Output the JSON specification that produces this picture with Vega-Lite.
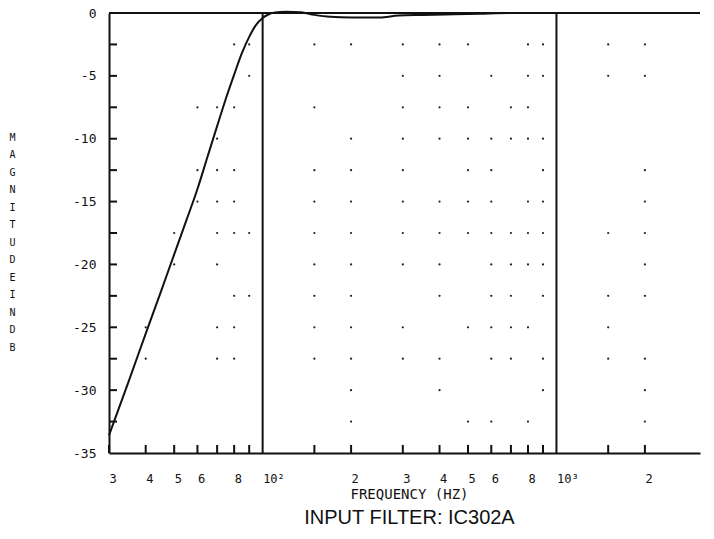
{
  "$schema": "https://vega.github.io/schema/vega-lite/v6.json",
  "width": 591,
  "height": 440,
  "autosize": {"type": "none"},
  "padding": {"left": 109, "top": 13, "right": 14, "bottom": 86},
  "background": "white",
  "config": {"view": {"stroke": null}, "axis": {"grid": false}},
  "title": {"text": "INPUT FILTER: IC302A", "orient": "bottom", "anchor": "middle", "font": "Liberation Sans", "fontSize": 20, "fontWeight": "normal", "color": "#111", "offset": 7, "dx": 5},
  "datasets": {
    "curve": [
      {"f": 30, "db": -33.6}, {"f": 35, "db": -29.3}, {"f": 40, "db": -25.5}, {"f": 45, "db": -22.2},
      {"f": 50, "db": -19.2}, {"f": 55, "db": -16.5}, {"f": 60, "db": -14.0}, {"f": 65, "db": -11.4},
      {"f": 70, "db": -9.0}, {"f": 75, "db": -6.8}, {"f": 80, "db": -4.9}, {"f": 85, "db": -3.2},
      {"f": 90, "db": -1.9}, {"f": 95, "db": -0.95}, {"f": 100, "db": -0.4}, {"f": 105, "db": -0.1},
      {"f": 110, "db": 0.05}, {"f": 120, "db": 0.1}, {"f": 135, "db": 0.05}, {"f": 150, "db": -0.15},
      {"f": 170, "db": -0.3}, {"f": 200, "db": -0.35}, {"f": 250, "db": -0.35}, {"f": 290, "db": -0.2},
      {"f": 350, "db": -0.15}, {"f": 450, "db": -0.1}, {"f": 550, "db": -0.05}, {"f": 700, "db": 0},
      {"f": 1000, "db": 0}, {"f": 2000, "db": 0}, {"f": 3080, "db": 0}
    ],
    "dots": [
      {"f": 80, "db": -2.5}, {"f": 90, "db": -2.5}, {"f": 150, "db": -2.5}, {"f": 200, "db": -2.5}, {"f": 300, "db": -2.5}, {"f": 400, "db": -2.5}, {"f": 500, "db": -2.5}, {"f": 800, "db": -2.5}, {"f": 900, "db": -2.5}, {"f": 1500, "db": -2.5}, {"f": 2000, "db": -2.5},
      {"f": 90, "db": -5}, {"f": 300, "db": -5}, {"f": 400, "db": -5}, {"f": 600, "db": -5}, {"f": 800, "db": -5}, {"f": 900, "db": -5}, {"f": 1500, "db": -5}, {"f": 2000, "db": -5},
      {"f": 60, "db": -7.5}, {"f": 70, "db": -7.5}, {"f": 80, "db": -7.5}, {"f": 150, "db": -7.5}, {"f": 300, "db": -7.5}, {"f": 400, "db": -7.5}, {"f": 500, "db": -7.5}, {"f": 700, "db": -7.5}, {"f": 800, "db": -7.5},
      {"f": 70, "db": -10}, {"f": 200, "db": -10}, {"f": 300, "db": -10}, {"f": 400, "db": -10}, {"f": 500, "db": -10}, {"f": 600, "db": -10}, {"f": 700, "db": -10}, {"f": 800, "db": -10}, {"f": 900, "db": -10},
      {"f": 60, "db": -12.5}, {"f": 70, "db": -12.5}, {"f": 80, "db": -12.5}, {"f": 150, "db": -12.5}, {"f": 200, "db": -12.5}, {"f": 300, "db": -12.5}, {"f": 500, "db": -12.5}, {"f": 600, "db": -12.5}, {"f": 900, "db": -12.5}, {"f": 2000, "db": -12.5},
      {"f": 60, "db": -15}, {"f": 70, "db": -15}, {"f": 80, "db": -15}, {"f": 150, "db": -15}, {"f": 200, "db": -15}, {"f": 300, "db": -15}, {"f": 400, "db": -15}, {"f": 500, "db": -15}, {"f": 600, "db": -15}, {"f": 800, "db": -15}, {"f": 900, "db": -15}, {"f": 2000, "db": -15},
      {"f": 50, "db": -17.5}, {"f": 70, "db": -17.5}, {"f": 80, "db": -17.5}, {"f": 90, "db": -17.5}, {"f": 150, "db": -17.5}, {"f": 200, "db": -17.5}, {"f": 300, "db": -17.5}, {"f": 400, "db": -17.5}, {"f": 500, "db": -17.5}, {"f": 600, "db": -17.5}, {"f": 700, "db": -17.5}, {"f": 800, "db": -17.5}, {"f": 900, "db": -17.5}, {"f": 1500, "db": -17.5}, {"f": 2000, "db": -17.5},
      {"f": 50, "db": -20}, {"f": 70, "db": -20}, {"f": 150, "db": -20}, {"f": 200, "db": -20}, {"f": 300, "db": -20}, {"f": 400, "db": -20}, {"f": 600, "db": -20}, {"f": 700, "db": -20}, {"f": 800, "db": -20}, {"f": 900, "db": -20}, {"f": 2000, "db": -20},
      {"f": 80, "db": -22.5}, {"f": 90, "db": -22.5}, {"f": 150, "db": -22.5}, {"f": 200, "db": -22.5}, {"f": 400, "db": -22.5}, {"f": 600, "db": -22.5}, {"f": 700, "db": -22.5}, {"f": 900, "db": -22.5}, {"f": 1500, "db": -22.5}, {"f": 2000, "db": -22.5},
      {"f": 40, "db": -25}, {"f": 70, "db": -25}, {"f": 80, "db": -25}, {"f": 150, "db": -25}, {"f": 200, "db": -25}, {"f": 300, "db": -25}, {"f": 500, "db": -25}, {"f": 600, "db": -25}, {"f": 700, "db": -25}, {"f": 800, "db": -25}, {"f": 1500, "db": -25},
      {"f": 40, "db": -27.5}, {"f": 70, "db": -27.5}, {"f": 80, "db": -27.5}, {"f": 150, "db": -27.5}, {"f": 200, "db": -27.5}, {"f": 300, "db": -27.5}, {"f": 400, "db": -27.5}, {"f": 600, "db": -27.5}, {"f": 700, "db": -27.5}, {"f": 900, "db": -27.5}, {"f": 1500, "db": -27.5}, {"f": 2000, "db": -27.5},
      {"f": 200, "db": -30}, {"f": 400, "db": -30}, {"f": 900, "db": -30}, {"f": 2000, "db": -30},
      {"f": 200, "db": -32.5}, {"f": 500, "db": -32.5}, {"f": 600, "db": -32.5}, {"f": 800, "db": -32.5}, {"f": 2000, "db": -32.5}
    ],
    "decades": [{"f": 100}, {"f": 1000}],
    "xticks": [{"f": 30}, {"f": 40}, {"f": 50}, {"f": 60}, {"f": 70}, {"f": 80}, {"f": 90}, {"f": 150}, {"f": 200}, {"f": 300}, {"f": 400}, {"f": 500}, {"f": 600}, {"f": 700}, {"f": 800}, {"f": 900}, {"f": 1500}, {"f": 2000}],
    "yticks": [{"db": -32.5}, {"db": -30}, {"db": -27.5}, {"db": -25}, {"db": -22.5}, {"db": -20}, {"db": -17.5}, {"db": -15}, {"db": -12.5}, {"db": -10}, {"db": -7.5}, {"db": -5}, {"db": -2.5}]
  },
  "layer": [
    {
      "data": {"name": "dots"},
      "mark": {"type": "circle", "size": 5, "color": "#222", "opacity": 1},
      "encoding": {
        "x": {"field": "f", "type": "quantitative", "scale": {"type": "log", "domain": [30, 3080], "nice": false}},
        "y": {"field": "db", "type": "quantitative", "scale": {"domain": [-35, 0], "nice": false}}
      }
    },
    {
      "data": {"name": "xticks"},
      "mark": {"type": "rule", "strokeWidth": 2, "color": "#111"},
      "encoding": {
        "x": {"field": "f", "type": "quantitative", "scale": {"type": "log", "domain": [30, 3080], "nice": false}},
        "y": {"datum": -35, "type": "quantitative", "scale": {"domain": [-35, 0], "nice": false}},
        "y2": {"datum": -34.36}
      }
    },
    {
      "data": {"name": "yticks"},
      "mark": {"type": "rule", "strokeWidth": 2, "color": "#111"},
      "encoding": {
        "x": {"datum": 30, "type": "quantitative", "scale": {"type": "log", "domain": [30, 3080], "nice": false}},
        "x2": {"datum": 31.94},
        "y": {"field": "db", "type": "quantitative", "scale": {"domain": [-35, 0], "nice": false}}
      }
    },
    {
      "data": {"name": "decades"},
      "mark": {"type": "rule", "color": "#111", "strokeWidth": 2},
      "encoding": {
        "x": {"field": "f", "type": "quantitative", "scale": {"type": "log", "domain": [30, 3080], "nice": false}}
      }
    },
    {
      "data": {"name": "decades"},
      "mark": {"type": "rule", "color": "#111", "strokeWidth": 2},
      "encoding": {
        "y": {"datum": 0, "type": "quantitative", "scale": {"domain": [-35, 0], "nice": false}}
      }
    },
    {
      "data": {"name": "curve"},
      "mark": {"type": "line", "color": "#111", "strokeWidth": 2, "interpolate": "monotone", "clip": false},
      "encoding": {
        "x": {
          "field": "f", "type": "quantitative",
          "scale": {"type": "log", "domain": [30, 3080], "nice": false},
          "axis": {
            "values": [30, 40, 50, 60, 70, 80, 90, 100, 150, 200, 300, 400, 500, 600, 700, 800, 900, 1000, 1500, 2000],
            "labelExpr": "datum.value == 100 ? '10²' : datum.value == 1000 ? '10³' : (indexof([70, 90, 150, 700, 900, 1500], datum.value) >= 0 ? '' : toString(datum.value < 100 ? datum.value / 10 : datum.value < 1000 ? datum.value / 100 : datum.value / 1000))",
            "labelAlign": "left",
            "labelBaseline": "top",
            "labelFont": "DejaVu Sans Mono",
            "labelFontSize": 12,
            "labelColor": "#111",
            "labelPadding": 20,
            "labelFlush": false,
            "labelOverlap": false,
            "ticks": false,
            "domainColor": "#111",
            "domainWidth": 2,
            "title": "FREQUENCY (HZ)",
            "titleFont": "DejaVu Sans Mono",
            "titleFontSize": 14,
            "titleFontWeight": "normal",
            "titleColor": "#111",
            "titleX": 300,
            "titleY": 34,
            "titleBaseline": "top",
            "titleAlign": "center"
          }
        },
        "y": {
          "field": "db", "type": "quantitative",
          "scale": {"domain": [-35, 0], "nice": false},
          "axis": {
            "values": [-35, -30, -25, -20, -15, -10, -5, 0],
            "labelExpr": "toString(datum.value)",
            "labelFont": "DejaVu Sans Mono",
            "labelFontSize": 13,
            "labelColor": "#111",
            "labelPadding": 13,
            "labelOverlap": false,
            "labelFlush": false,
            "ticks": false,
            "domainColor": "#111",
            "domainWidth": 2,
            "title": ["M", "A", "G", "N", "I", "T", "U", "D", "E", "\u00a0", "I", "N", "\u00a0", "D", "B"],
            "titleFont": "DejaVu Sans Mono",
            "titleFontSize": 10,
            "titleFontWeight": "normal",
            "titleColor": "#111",
            "titleAngle": 0,
            "titleLineHeight": 17.5,
            "titleAlign": "center",
            "titleBaseline": "top",
            "titleX": -97,
            "titleY": 119
          }
        }
      }
    }
  ]
}
